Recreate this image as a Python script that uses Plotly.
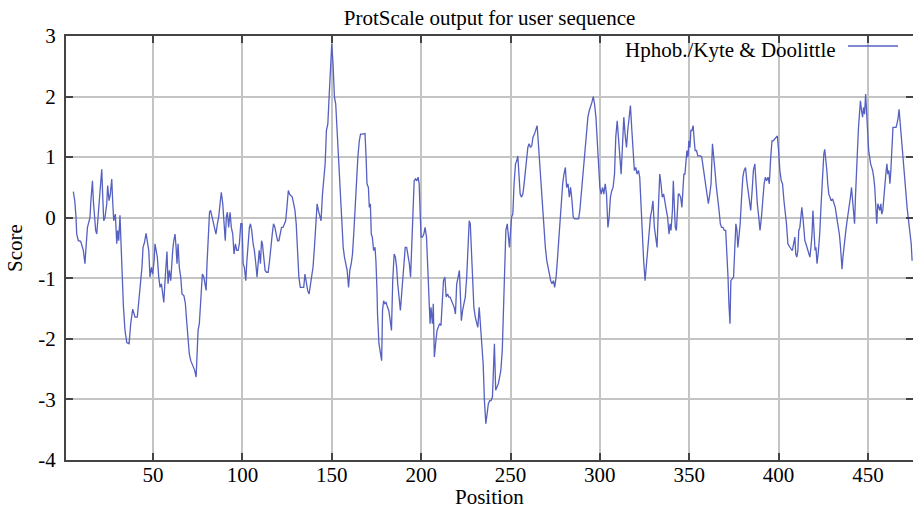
import plotly.graph_objects as go

# ---- data ----
positions = [
    5.4, 6.2, 6.9, 7.3, 8.2, 9.5, 11.0, 11.9, 12.5, 13.3, 14.0, 14.7, 15.3, 16.1, 16.6, 17.2, 17.9, 18.5, 19.0, 20.0,
    20.3, 21.3, 21.8, 22.4, 23.1, 24.1, 24.6, 25.4, 26.1, 26.9, 27.4, 28.0, 28.9, 29.7, 30.2, 30.8, 31.5, 32.1, 32.7, 33.4,
    34.3, 35.3, 36.6, 37.5, 38.6, 39.9, 41.2, 42.4, 43.3, 43.8, 44.4, 45.2, 46.1, 46.8, 47.6, 48.3, 49.1, 49.8, 50.6, 51.1,
    51.9, 52.4, 53.2, 53.9, 54.7, 55.4, 56.0, 56.7, 57.3, 57.8, 58.4, 59.1, 59.9, 60.4, 61.0, 61.6, 62.3, 62.9, 63.4, 64.0,
    64.7, 65.5, 66.2, 67.3, 68.1, 68.8, 69.6, 70.3, 71.1, 71.8, 72.6, 73.3, 74.1, 74.6, 75.2, 75.9, 76.7, 77.6, 78.4, 79.1,
    79.7, 80.2, 81.0, 81.6, 82.2, 83.0, 83.7, 84.5, 85.2, 86.0, 86.7, 87.5, 88.2, 89.0, 89.7, 90.4, 91.0, 91.6, 92.3, 93.1,
    93.8, 94.6, 95.3, 96.1, 96.8, 97.6, 98.3, 99.1, 99.8, 100.4, 101.1, 101.9, 102.4, 103.2, 103.9, 104.5, 105.2, 106.0, 106.7, 107.5,
    108.2, 108.8, 109.4, 110.1, 110.7, 111.2, 112.0, 112.7, 113.5, 114.4, 115.2, 115.9, 116.7, 117.4, 118.2, 118.9, 119.7, 120.4, 121.2, 121.9,
    122.7, 123.4, 124.2, 124.9, 125.7, 126.4, 127.2, 127.9, 128.7, 129.4, 130.1, 130.9, 131.6, 132.4, 133.5, 134.3, 135.0, 135.8, 136.5, 137.3,
    138.0, 138.8, 139.5, 140.3, 141.0, 141.8, 142.5, 143.3, 144.0, 144.8, 145.5, 146.3, 147.0, 147.8, 148.5, 149.3, 150.0, 150.7, 151.5, 152.2,
    153.0, 153.7, 154.5, 155.1, 155.6, 156.4, 157.1, 157.9, 158.6, 159.4, 160.1, 160.9, 161.6, 162.4, 163.1, 163.9, 164.6, 165.4, 166.1, 167.2,
    168.6, 169.2, 169.7, 170.5, 171.0, 171.6, 172.1, 172.7, 173.4, 174.2, 174.7, 175.3, 175.6, 176.4, 177.1, 177.9, 178.4, 179.0, 179.7, 180.4,
    181.2, 181.9, 182.7, 183.4, 184.1, 184.9, 185.6, 186.3, 186.9, 187.6, 188.4, 189.1, 189.9, 190.4, 191.1, 191.9, 192.6, 193.4, 194.1, 194.8,
    195.6, 196.1, 196.9, 197.6, 198.3, 198.9, 199.4, 200.0, 200.7, 201.5, 202.2, 203.0, 203.7, 204.4, 205.0, 205.5, 206.3, 206.8, 207.4, 208.1,
    208.9, 209.6, 210.3, 211.1, 211.8, 212.5, 213.3, 214.0, 214.8, 215.5, 216.2, 217.0, 217.7, 218.5, 219.2, 219.9, 220.7, 221.4, 221.8, 222.5,
    223.2, 224.0, 224.7, 225.5, 226.2, 226.9, 227.5, 228.0, 228.8, 229.5, 230.3, 231.0, 231.7, 232.5, 233.2, 233.9, 234.7, 235.4, 236.2, 236.9,
    237.6, 238.4, 239.1, 239.9, 240.4, 241.0, 241.7, 242.4, 243.2, 243.9, 244.6, 245.4, 246.1, 246.9, 247.4, 248.2, 248.9, 249.4, 250.6, 251.3,
    252.0, 252.8, 253.5, 254.1, 254.6, 255.4, 256.1, 256.9, 257.4, 258.2, 258.9, 259.7, 260.4, 261.2, 261.9, 262.6, 263.4, 264.1, 264.9, 265.6,
    266.5, 267.3, 268.0, 268.8, 269.5, 270.3, 271.0, 271.7, 272.5, 273.2, 274.0, 274.7, 275.5, 276.2, 277.0, 277.7, 278.4, 279.2, 279.9, 280.7,
    281.4, 282.2, 282.9, 283.6, 284.4, 285.1, 285.9, 286.6, 287.4, 288.1, 288.8, 289.6, 290.3, 291.1, 291.8, 292.6, 293.3, 294.1, 294.8, 295.5,
    296.3, 297.0, 297.8, 298.5, 299.3, 300.0, 300.7, 301.5, 302.2, 303.0, 303.7, 304.5, 305.2, 305.9, 306.7, 307.4, 308.2, 308.9, 309.7, 310.4,
    311.2, 311.9, 312.6, 313.4, 314.1, 314.9, 315.6, 316.4, 317.1, 317.8, 318.6, 319.3, 320.1, 320.8, 321.6, 322.3, 323.0, 323.8, 324.5, 325.3,
    326.0, 326.8, 327.5, 328.3, 329.0, 329.7, 330.5, 331.2, 332.0, 332.7, 333.5, 334.2, 334.9, 335.7, 336.4, 337.2, 337.9, 338.7, 339.3, 339.8,
    340.6, 341.1, 341.7, 342.2, 342.8, 343.3, 343.9, 344.4, 345.2, 345.9, 346.5, 347.0, 347.6, 348.1, 348.7, 349.3, 349.8, 350.4, 350.9, 351.5,
    352.2, 352.8, 353.3, 354.1, 354.8, 355.6, 356.3, 357.0, 357.8, 358.5, 359.3, 360.0, 360.7, 361.5, 362.2, 363.0, 363.7, 364.4, 365.2, 365.9,
    366.7, 367.4, 368.1, 368.9, 369.6, 370.4, 371.1, 371.7, 372.2, 372.8, 373.3, 374.1, 374.8, 375.6, 376.1, 376.7, 377.2, 377.8, 378.5, 379.3,
    380.0, 380.7, 381.5, 382.2, 383.0, 383.7, 384.4, 385.2, 385.9, 386.7, 387.4, 388.1, 388.9, 389.6, 390.4, 391.1, 391.9, 392.6, 393.3, 394.1,
    394.8, 395.6, 396.3, 397.0, 397.8, 398.5, 399.3, 400.0, 400.7, 401.5, 402.2, 403.0, 403.7, 404.4, 405.2, 406.2, 407.0, 407.7, 408.5, 409.1,
    409.6, 410.2, 410.8, 411.3, 411.9, 412.5, 413.0, 413.6, 414.2, 414.7, 415.3, 415.8, 416.4, 417.0, 417.5, 418.1, 418.7, 419.2, 419.8, 420.4,
    420.9, 421.5, 422.3, 423.0, 423.8, 424.5, 425.3, 425.8, 426.4, 427.0, 427.5, 428.1, 428.7, 429.4, 430.2, 430.9, 431.7, 432.5, 433.2, 434.0,
    434.5, 435.1, 435.5, 436.0, 436.6, 437.4, 438.1, 438.9, 439.6, 440.2, 440.8, 441.3, 441.9, 442.5, 443.0, 443.6, 444.2, 444.7, 445.3, 445.8,
    446.4, 447.0, 447.5, 448.1, 448.7, 449.2, 449.8, 450.4, 450.9, 451.5, 452.1, 452.6, 453.2, 453.8, 454.3, 454.9, 455.5, 456.0, 456.6, 457.2,
    457.7, 458.3, 458.9, 459.4, 460.0, 460.6, 461.1, 461.7, 462.3, 462.8, 463.4, 464.0, 464.5, 465.1, 465.7, 466.2, 466.8, 467.4, 467.9, 468.5,
    469.1, 469.6, 470.2, 470.8, 471.3, 471.9, 472.5, 473.0, 473.6, 474.2, 474.7,
]

scores = [
    0.43, 0.28, 0.01, -0.27, -0.38, -0.39, -0.54, -0.76, -0.49, -0.16, -0.08, 0.00, 0.31, 0.61, 0.28, -0.05, -0.21, -0.27, -0.05, 0.23,
    0.50, 0.80, 0.39, -0.05, 0.00, 0.23, 0.53, 0.28, 0.39, 0.64, 0.28, -0.05, 0.06, -0.43, -0.21, -0.38, 0.04, -0.54, -1.01, -1.45,
    -1.86, -2.06, -2.08, -1.75, -1.51, -1.64, -1.64, -1.26, -1.09, -0.82, -0.49, -0.41, -0.26, -0.38, -0.54, -0.98, -0.82, -0.93, -0.71, -0.43,
    -0.54, -0.65, -0.98, -1.15, -1.09, -1.26, -1.40, -1.04, -0.76, -0.56, -1.09, -0.87, -1.04, -0.76, -0.54, -0.38, -0.27, -0.49, -0.76, -0.43,
    -0.82, -0.98, -1.26, -1.29, -1.42, -1.70, -2.06, -2.25, -2.36, -2.41, -2.47, -2.52, -2.63, -2.19, -1.86, -1.75, -1.31, -0.93, -0.98, -1.09,
    -1.20, -0.76, -0.32, 0.09, 0.12, 0.01, -0.10, -0.21, -0.27, -0.10, 0.01, 0.23, 0.42, 0.23, -0.16, -0.38, 0.01, 0.09, -0.16, 0.09,
    -0.16, -0.27, -0.60, -0.43, -0.54, -0.54, -0.43, -0.10, -0.10, -0.76, -0.82, -1.04, -0.76, -0.32, -0.16, -0.10, -0.21, -0.43, -0.54, -0.76,
    -0.98, -0.76, -0.54, -0.76, -0.38, -0.43, -0.65, -0.87, -0.90, -0.90, -0.71, -0.43, -0.27, -0.10, -0.16, -0.27, -0.38, -0.38, -0.27, -0.16,
    -0.16, -0.10, -0.05, 0.17, 0.45, 0.39, 0.36, 0.34, 0.23, 0.12, -0.10, -0.49, -0.98, -1.15, -1.15, -1.15, -0.93, -1.09, -1.20, -1.26,
    -1.09, -0.98, -0.82, -0.49, -0.10, 0.23, 0.12, 0.01, -0.05, 0.39, 0.67, 0.89, 1.44, 1.55, 1.99, 2.48, 2.87, 2.54, 1.99, 1.88,
    1.44, 1.00, 0.61, 0.12, -0.10, -0.49, -0.65, -0.76, -0.87, -1.15, -0.87, -0.76, -0.60, -0.21, 0.23, 0.61, 1.00, 1.27, 1.38, 1.38,
    1.39, 1.00, 0.56, 0.50, 0.17, 0.23, -0.27, -0.32, -0.54, -0.49, -0.71, -1.20, -1.59, -2.08, -2.25, -2.36, -1.53, -1.37, -1.42, -1.40,
    -1.48, -1.53, -1.70, -1.86, -1.04, -0.60, -0.65, -0.82, -1.09, -1.37, -1.53, -1.26, -0.93, -0.87, -0.49, -0.49, -0.60, -0.76, -0.98, -0.32,
    0.23, 0.61, 0.64, 0.61, 0.67, 0.56, 0.12, -0.32, -0.32, -0.27, -0.16, -0.32, -0.82, -1.42, -1.75, -1.48, -1.75, -1.42, -2.30, -2.08,
    -1.86, -1.81, -1.75, -1.78, -1.42, -1.04, -0.98, -1.31, -1.26, -1.31, -1.31, -1.37, -1.42, -1.48, -1.59, -1.09, -0.98, -0.87, -1.15, -1.70,
    -1.53, -1.42, -1.31, -0.98, -0.43, -0.05, -0.10, -0.49, -0.93, -1.48, -1.64, -1.75, -1.81, -1.48, -1.75, -2.03, -2.41, -3.02, -3.40, -3.24,
    -3.07, -3.02, -3.02, -2.96, -2.52, -2.08, -2.85, -2.80, -2.74, -2.63, -2.52, -2.19, -1.48, -0.76, -0.21, -0.10, -0.43, -0.49, 0.01, 0.06,
    0.56, 0.89, 0.94, 1.02, 0.78, 0.39, 0.34, 0.39, 0.50, 0.78, 1.00, 1.16, 1.22, 1.16, 1.19, 1.33, 1.38, 1.44, 1.52, 1.22,
    0.78, 0.50, 0.17, -0.21, -0.49, -0.71, -0.82, -0.98, -1.04, -1.09, -1.04, -1.15, -0.98, -0.71, -0.32, 0.01, 0.34, 0.56, 0.72, 0.83,
    0.50, 0.56, 0.34, 0.50, 0.28, 0.01, -0.02, -0.02, -0.02, -0.02, 0.12, 0.39, 0.72, 1.00, 1.22, 1.44, 1.66, 1.77, 1.82, 1.90,
    2.00, 1.88, 1.66, 1.33, 1.00, 0.50, 0.39, 0.50, 0.39, 0.56, 0.39, -0.16, 0.01, 0.34, 0.45, 0.50, 0.72, 1.33, 1.60, 1.22,
    1.00, 0.72, 1.33, 1.66, 1.38, 1.16, 1.44, 1.66, 1.85, 1.49, 1.00, 0.78, 0.83, 0.72, 0.78, 0.67, 0.23, -0.32, -0.71, -1.04,
    -0.76, -0.54, -0.27, 0.01, 0.12, 0.28, -0.16, -0.32, -0.49, 0.12, 0.72, 0.56, 0.34, 0.39, 0.23, 0.12, 0.01, -0.27, -0.10, -0.21,
    0.12, 0.61, 0.17, -0.16, -0.21, 0.17, 0.39, 0.39, 0.34, 0.17, 0.45, 0.72, 0.72, 0.89, 1.11, 1.00, 1.27, 1.16, 1.44, 1.44,
    1.52, 1.27, 1.11, 1.11, 1.02, 1.02, 1.02, 1.00, 0.83, 0.61, 0.45, 0.34, 0.23, 0.39, 0.56, 1.22, 1.05, 0.78, 0.50, 0.34,
    0.12, -0.10, -0.16, -0.16, -0.21, -0.21, -0.54, -0.98, -1.42, -1.75, -1.04, -1.01, -0.98, -0.43, -0.10, -0.21, -0.49, -0.32, -0.10, 0.34,
    0.67, 0.78, 0.83, 0.61, 0.45, 0.23, 0.12, 0.45, 0.78, 0.89, 0.45, 0.23, 0.01, -0.21, 0.01, 0.28, 0.56, 0.67, 0.61, 0.67,
    0.56, 1.00, 1.27, 1.27, 1.30, 1.33, 1.35, 1.11, 0.78, 0.61, 0.56, 0.28, 0.12, -0.10, -0.43, -0.49, -0.52, -0.54, -0.43, -0.32,
    -0.60, -0.65, -0.54, -0.21, -0.16, 0.01, 0.17, 0.01, -0.21, -0.38, -0.43, -0.49, -0.54, -0.60, -0.65, -0.49, -0.27, 0.12, -0.21, -0.54,
    -0.49, -0.76, -0.54, -0.27, 0.23, 0.72, 1.05, 1.13, 1.00, 0.78, 0.56, 0.39, 0.34, 0.28, 0.31, 0.23, 0.17, 0.01, -0.10, -0.27,
    -0.43, -0.71, -0.85, -0.65, -0.43, -0.27, -0.10, 0.06, 0.17, 0.34, 0.50, 0.28, 0.12, -0.10, 0.34, 0.89, 1.16, 1.49, 1.71, 1.93,
    1.77, 1.66, 1.82, 1.71, 2.04, 1.60, 1.44, 1.11, 1.00, 0.89, 0.83, 0.78, 0.67, 0.50, 0.23, -0.10, 0.23, 0.17, 0.12, 0.23,
    0.06, 0.12, 0.39, 0.50, 0.72, 0.89, 0.72, 0.78, 0.56, 0.78, 1.27, 1.49, 1.49, 1.49, 1.49, 1.55, 1.63, 1.79, 1.60, 1.44,
    1.22, 1.00, 0.78, 0.56, 0.34, 0.17, 0.01, -0.10, -0.32, -0.43, -0.71,
]

x_ticks = [50, 100, 150, 200, 250, 300, 350, 400, 450]
y_ticks = [-4, -3, -2, -1, 0, 1, 2, 3]
series_name = "Hphob./Kyte & Doolittle"
title_text = "ProtScale output for user sequence"
x_label = "Position"
y_label = "Score"

LINE = "#5560c0"
FONT = "Liberation Serif"
AX = "#444444"
GRID = "#c4c4c4"
FS = 21

fig = go.Figure()
fig.add_trace(go.Scatter(
    x=positions, y=scores, mode="lines", name=series_name,
    line=dict(color=LINE, width=1.3), showlegend=False,
))

axis_common = dict(
    showline=True, linecolor=AX, linewidth=2, mirror="ticks",
    ticks="inside", ticklen=7, tickwidth=1.5, tickcolor=AX,
    showgrid=True, gridcolor=GRID, gridwidth=1.5, zeroline=False,
    automargin=False,
    tickfont=dict(family=FONT, size=FS, color="black"),
)

fig.update_xaxes(range=[1.3, 475.2], tickvals=x_ticks, ticktext=[str(v) for v in x_ticks],
                 ticklabelstandoff=-5, **axis_common)
fig.update_yaxes(range=[-4, 3], tickvals=y_ticks, ticktext=[str(v) for v in y_ticks],
                 ticklabelstandoff=4, **axis_common)

# axis titles
fig.add_annotation(xref="paper", yref="paper", x=0.5, y=-0.0873, xanchor="center", yanchor="middle",
                   text=x_label, showarrow=False, font=dict(family=FONT, size=FS, color="black"))
fig.add_annotation(xref="paper", yref="paper", x=-0.0602, y=0.5, xanchor="center", yanchor="middle",
                   text=y_label, textangle=-90, showarrow=False, font=dict(family=FONT, size=FS, color="black"))

# legend box (white background hides grid lines) with label and line sample on the right
fig.add_shape(type="rect", xref="paper", yref="paper", x0=0.652, x1=1.0, y0=0.95, y1=0.984,
              fillcolor="white", line=dict(width=0), layer="between")
fig.add_annotation(xref="paper", yref="paper", x=0.9115, y=0.967, xanchor="right", yanchor="middle",
                   text=series_name, showarrow=False, font=dict(family=FONT, size=FS, color="black"))
fig.add_shape(type="line", xref="paper", yref="paper", x0=0.9233, x1=0.9823, y0=0.9764, y1=0.9764,
              line=dict(color=LINE, width=1.3), layer="above")

fig.update_layout(
    width=913, height=508, autosize=False,
    margin=dict(l=66, r=0, t=36, b=48),
    paper_bgcolor="white", plot_bgcolor="white",
    title=dict(text=title_text, x=0.5, xref="paper", y=1 - 18 / 508, yref="container",
               xanchor="center", yanchor="middle",
               font=dict(family=FONT, size=FS, color="black")),
)

fig.write_html("out.html", config={"displayModeBar": False},
               post_script="document.body.style.margin='0';document.body.style.padding='0';")
